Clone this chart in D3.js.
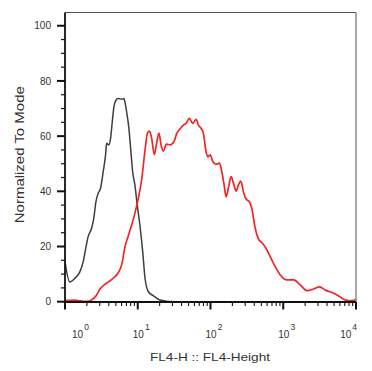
<!DOCTYPE html>
<html><head><meta charset="utf-8">
<script src="https://cdn.jsdelivr.net/npm/d3@7"></script>
<style>html,body{margin:0;padding:0;background:#fff;}svg{display:block;}</style>
</head><body>
<script>
// ---- data ----
const grayX = [1.0,1.16,1.36,1.60,1.78,1.93,2.08,2.32,2.49,2.66,2.86,3.08,3.35,3.61,3.73,4.01,4.23,4.51,4.70,5.01,5.39,6.00,6.46,6.66,7.03,7.56,8.06,8.51,9.15,9.84,10.7,11.7,12.6,14.0,16.3,20.2,25.0,38];
const grayY = [14.5,7.2,8.4,10.8,14.5,19.4,23.6,26.6,30.3,36.2,39.3,41.1,47.1,53.2,57.4,56.8,59.2,66.4,70.6,73.0,73.6,73.4,73.6,72.4,68.8,62.7,54.2,47.1,42.2,35.0,27.8,18.1,8.4,3.6,2.2,0.6,0.2,0];
const redX = [1.01,1.36,1.60,1.98,2.32,2.72,3.01,3.73,4.60,5.39,6.06,6.66,7.40,8.24,9.15,10.2,11.3,12.6,13.6,14.5,15.5,16.9,18.2,19.6,20.9,22.5,24.8,27.8,31.5,34.4,38.1,42.4,46.1,51.2,57.0,63.3,68.1,74.2,79.9,86.9,91.8,98.7,108,119,133,143,154,164,176,192,207,225,242,261,284,309,343,371,411,457,514,565,662,776,910,1125,1387,1714,2120,2612,3162,3788,4688,5781,7145,8835,10000];
const redY = [0.4,0.6,0.3,0.1,0.6,2.4,4.5,6.7,8.5,10.5,13.7,19.8,23.8,27.8,32.1,37.6,44.1,55.0,61.1,61.8,59.3,53.3,57.5,61.1,56.8,54.6,57.1,56.8,58.0,61.0,62.6,64.0,64.6,66.4,64.6,66.1,64.0,62.8,61.0,54.3,52.5,53.2,50.7,49.8,50.2,47.1,42.3,38.0,41.1,45.3,42.9,40.1,42.3,43.7,39.7,37.2,36.2,33.6,26.7,22.7,21.3,19.8,16.3,12.7,9.7,7.9,7.9,6.1,4.0,4.6,5.4,4.2,3.3,2.1,0.6,0.4,0.9];
const yTicks = [0,20,40,60,80,100];
const xDecades = [0,1,2,3,4];
const xTitle = "FL4-H :: FL4-Height";
const yTitle = "Normalized To Mode";

// ---- layout ----
const W = 372, H = 371;
const svg = d3.select("body").append("svg").attr("width", W).attr("height", H);
const x = d3.scaleLog().domain([1, 1e4]).range([65, 356]);
const y = d3.scaleLinear().domain([0, 104.8]).range([301.7, 12.5]);
const x0 = x.range()[0], x1 = x.range()[1];
const yb = y(0) + 0.3, yt = y.range()[1];
const font = "'Liberation Sans', Arial, sans-serif";

// clip
svg.append("clipPath").attr("id","clip").append("rect")
  .attr("x", x0).attr("y", yt).attr("width", x1 - x0).attr("height", yb - yt);

// curves
const line = d3.line().x(d => x(d[0])).y(d => y(d[1])).curve(d3.curveMonotoneX);
const g = svg.append("g").attr("clip-path", "url(#clip)");
g.append("path").datum(grayX.map((v,i)=>[v,grayY[i]]))
  .attr("d", line).attr("fill","none").attr("stroke","#3d3d3d").attr("stroke-width",1.5);
g.append("path").datum(redX.map((v,i)=>[v,redY[i]]))
  .attr("d", line).attr("fill","none").attr("stroke","#f52424").attr("stroke-width",1.7);

// frame
svg.append("line").attr("x1",x0).attr("x2",x1).attr("y1",yt).attr("y2",yt).attr("stroke","#555").attr("stroke-width",1.2);
svg.append("line").attr("x1",x1).attr("x2",x1).attr("y1",yt).attr("y2",yb).attr("stroke","#888").attr("stroke-width",1.5);

// y axis ticks
const yMinor = d3.range(0, 101, 5);
svg.append("g").selectAll("line").data(yMinor).join("line")
  .attr("x1", d => d % 20 === 0 ? x0 - 8 : x0 - 4).attr("x2", x0)
  .attr("y1", d => y(d)).attr("y2", d => y(d))
  .attr("stroke", "#111").attr("stroke-width", d => d % 20 === 0 ? 2 : 1.2);
svg.append("g").selectAll("text").data(yTicks).join("text")
  .attr("x", x0 - 14).attr("y", d => y(d) + 3.6)
  .attr("text-anchor","end").attr("font-family",font).attr("font-size",10).attr("fill","#333")
  .text(d => d);

// x axis ticks
const xMinor = [];
for (let e = 0; e < 4; e++) for (let m = 2; m <= 9; m++) xMinor.push(m * Math.pow(10, e));
svg.append("g").selectAll("line").data(xMinor).join("line")
  .attr("x1", d => x(d)).attr("x2", d => x(d)).attr("y1", yb).attr("y2", yb + 4)
  .attr("stroke","#111").attr("stroke-width",1.1);
svg.append("g").selectAll("line").data(xDecades).join("line")
  .attr("x1", d => x(Math.pow(10,d))).attr("x2", d => x(Math.pow(10,d))).attr("y1", yb).attr("y2", yb + 7.5)
  .attr("stroke","#111").attr("stroke-width",2);

// axis lines
svg.append("line").attr("x1",x0).attr("x2",x0).attr("y1",yt).attr("y2",yb).attr("stroke","#111").attr("stroke-width",1.8);
svg.append("line").attr("x1",x0).attr("x2",x1).attr("y1",yb).attr("y2",yb).attr("stroke","#111").attr("stroke-width",1.8);

// x labels
const xl = svg.append("g").selectAll("text").data(xDecades).join("text")
  .attr("font-family",font).attr("font-size",10).attr("fill","#333")
  .attr("y", 338)
  .attr("x", (d,i) => i === 0 ? x0 + 7 : (i === xDecades.length - 1 ? x1 + 1 : x(Math.pow(10,d)) - 5))
  .attr("text-anchor", (d,i) => i === xDecades.length - 1 ? "end" : "start");
xl.append("tspan").text("10");
xl.append("tspan").attr("dy", -8.5).attr("dx", 1).attr("font-size", 8.5).text(d => d);

// titles
svg.append("text").attr("x", 210).attr("y", 360.7).attr("text-anchor","middle")
  .attr("font-family",font).attr("font-size",11).attr("fill","#333")
  .attr("textLength",120).attr("lengthAdjust","spacingAndGlyphs").text(xTitle);
svg.append("text").attr("transform","translate(23.5,154.7) rotate(-90)").attr("text-anchor","middle")
  .attr("font-family",font).attr("font-size",12).attr("fill","#333")
  .attr("textLength",137).attr("lengthAdjust","spacingAndGlyphs").text(yTitle);
</script>
</body></html>
